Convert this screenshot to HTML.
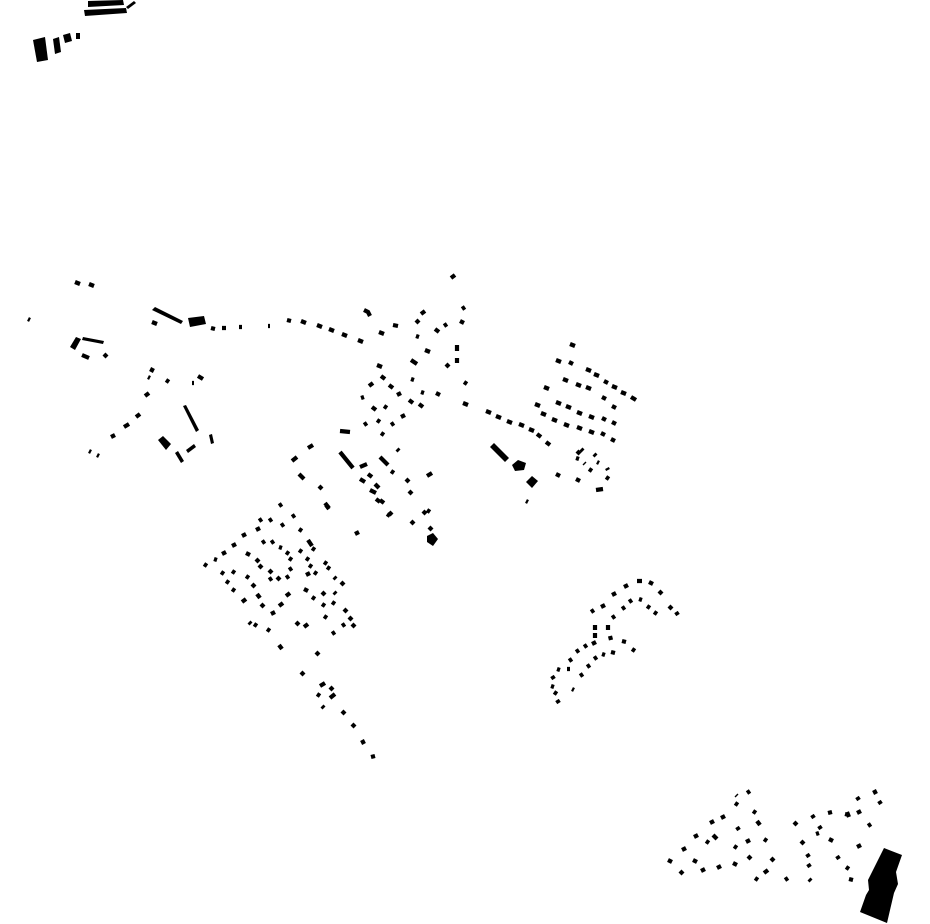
<!DOCTYPE html>
<html><head><meta charset="utf-8"><style>html,body{margin:0;padding:0;background:#fff}svg{display:block}</style></head>
<body>
<svg width="930" height="924" viewBox="0 0 930 924" xmlns="http://www.w3.org/2000/svg">
<g fill="#000">
<polygon points="88,1 123,0 124,5 88,7"/>
<polygon points="84,10 126,8 127,13 85,16"/>
<polygon points="126,7 134,1 136,3 128,9"/>
<polygon points="33,40 45,37 48,60 37,62"/>
<polygon points="53,39 59,37 61,52 55,54"/>
<polygon points="63,35 70,33 72,41 65,43"/>
<rect x="76" y="33" width="4" height="6"/>
<polygon points="188,318 204,316 206,324 190,327"/>
<polygon points="152,310 155,307 183,321 181,324"/>
<polygon points="70,347 76,337 81,339 75,350"/>
<polygon points="83,337 104,341 103,344 82,340"/>
<polygon points="183,406 186,405 199,430 196,432"/>
<polygon points="158,440 163,436 171,444 166,450"/>
<polygon points="175,453 178,451 184,461 181,463"/>
<polygon points="186,450 194,444 196,447 188,453"/>
<polygon points="209,435 212,434 214,443 211,444"/>
<polygon points="490,447 494,443 509,458 505,462"/>
<polygon points="512,465 518,460 526,463 524,470 515,471"/>
<polygon points="526,482 532,476 538,481 532,488"/>
<polygon points="427,536 433,533 438,539 433,546 427,542"/>
<polygon points="884,848 902,855 896,872 898,884 894,893 887,923 860,912 866,895 869,890 868,880 874,868"/>
</g>
<path fill="none" stroke="#000" stroke-width="4.2" d="
M75 282l5 2 M89 284l5 2 M28 319l2 1 M152 322l5 2 M211 328l4 1 M222 328l4 0 M239 327l3 0 M104 354l3 3 M82 355l7 3 M153 368l-2 4 M148 377l2 1 M166 380l3 2 M198 376l5 3 M192 383l2 0 M145 396l4 -3 M136 417l4 -3 M124 427l5 -3 M111 437l4 -2 M89 451l2 1 M97 455l2 1 M268 326l2 0
M287 320l4 1 M301 321l5 2 M317 325l5 2 M329 329l5 2 M342 334l5 2 M358 340l5 2 M364 310l4 2l2 4 M379 332l5 2 M393 325l5 1 M421 314l4 -3 M416 323l3 -3 M435 329l4 3 M444 326l3 -2 M462 309l3 -2 M460 321l4 2 M416 336l3 1 M425 350l5 2 M457 345l0 6 M457 358l0 5 M446 367l3 -3 M411 360l6 4 M377 365l5 2 M381 376l4 3 M389 385l4 3 M369 386l4 -3 M361 398l3 -1 M372 407l4 3 M384 406l3 2 M397 395l4 -2 M409 400l4 3 M419 404l4 3 M421 392l3 1 M436 393l4 2 M464 382l3 2 M463 403l5 2 M411 379l3 1 M401 417l4 -2 M391 425l3 -2 M377 420l3 2 M364 425l3 -2 M381 433l3 2 M340 431l10 1 M308 448l5 -3 M292 461l5 -4 M299 474l5 5 M319 486l3 3 M325 503l4 5 M340 452l13 16 M360 467l7 -3 M360 479l5 3 M368 474l4 3 M375 484l4 4 M370 490l6 3 M380 500l4 3 M387 514l3 2 M380 457l8 8 M391 471l3 2 M397 449l2 2 M406 479l3 3 M409 491l3 3 M427 476l5 -3 M423 511l3 3 M411 521l3 3 M429 527l3 3 M355 534l4 -2 M451 278l4 -3
M486 411l5 2 M496 416l5 2 M507 421l5 2 M519 424l5 2 M529 429l5 2 M537 434l4 3 M546 442l4 3 M556 474l4 2 M576 479l4 2 M596 490l7 -1 M606 477l3 2 M526 501l2 1
M570 344l5 2 M556 360l5 2 M569 362l4 2 M586 369l5 2 M594 374l5 2 M604 381l4 2 M612 386l5 2 M621 392l5 2 M631 397l5 3 M544 387l5 2 M563 379l5 2 M576 384l5 2 M586 387l5 2 M602 397l4 2 M612 406l4 2 M535 404l5 2 M556 402l5 2 M566 406l5 2 M577 412l5 2 M589 416l5 2 M602 418l4 2 M612 422l4 2 M541 413l5 2 M552 419l5 2 M564 424l5 2 M577 427l5 2 M589 431l5 2 M601 433l4 2 M611 439l4 2 M577 451l3 3 M589 469l3 2 M597 462l2 1 M581 449l2 2 M576 458l3 1 M584 463l1 1 M594 454l2 2 M607 468l1 2
M204 564l3 2 M214 559l3 1 M222 554l4 -2 M232 546l4 -2 M242 536l4 -2 M256 530l4 -2 M259 521l3 -2 M269 521l3 -2 M279 506l3 -2 M281 526l3 -2 M292 517l3 -2 M299 529l3 2 M262 543l3 -2 M271 543l3 -2 M279 547l3 1 M286 552l3 2 M289 558l3 2 M299 550l3 2 M308 540l4 6 M312 548l3 2 M246 553l4 2 M256 559l3 3 M259 565l3 3 M269 570l3 3 M277 577l3 3 M286 578l3 -2 M289 570l3 -2 M306 558l3 2 M309 565l3 2 M314 572l3 2 M324 562l3 2 M327 567l3 2 M306 575l4 -2 M221 572l3 2 M232 571l3 2 M246 576l3 2 M226 581l3 2 M232 589l3 2 M252 584l3 3 M257 594l3 4 M261 604l3 3 M269 580l3 -2 M242 602l4 -3 M271 614l4 -2 M279 606l4 -3 M286 596l4 -3 M304 589l4 2 M312 597l3 2 M322 592l3 3 M334 592l2 2 M334 577l2 2 M341 582l3 3 M322 604l3 2 M332 602l3 2 M344 609l3 3 M349 617l3 3 M352 624l3 3 M342 626l3 -2 M332 634l3 -2 M324 616l3 2 M296 622l3 3 M304 627l4 -3 M249 622l2 2 M254 624l3 2 M267 629l3 2 M279 645l3 4 M316 652l3 3 M301 672l3 3 M320 686l5 -3 M330 690l3 -3 M330 698l5 -4 M317 694l3 2 M322 706l2 2 M342 711l3 3 M352 724l3 3 M362 740l2 4 M371 757l4 -1 M326 505l3 4 M376 499l4 3 M389 512l3 3 M427 510l3 2
M591 612l3 -2 M601 607l4 -2 M612 595l4 -2 M624 587l4 -2 M637 581l5 0 M649 582l4 2 M659 591l3 3 M669 606l3 3 M676 612l2 3 M612 618l3 -2 M622 609l3 -2 M629 602l3 -2 M639 599l3 1 M647 606l3 2 M654 612l3 2 M595 625l0 5 M595 633l0 5 M608 625l0 5 M610 636l1 4 M622 641l4 1 M632 649l3 2 M592 644l4 -2 M584 647l3 -2 M576 652l3 -2 M569 661l3 -2 M567 669l3 0 M557 669l3 1 M552 676l2 3 M551 686l3 1 M554 692l3 2 M557 700l2 3 M611 652l4 1 M602 654l3 1 M594 659l3 -2 M587 667l3 -2 M580 676l3 -2 M572 689l2 1
M747 793l3 -2 M735 803l3 2 M736 795l1 1 M753 811l3 2 M721 818l4 -2 M710 823l4 -2 M757 821l3 4 M737 827l2 3 M713 835l4 4 M694 837l4 -2 M706 841l3 2 M746 842l4 -2 M764 839l3 2 M734 846l3 2 M682 850l4 -2 M668 860l4 2 M693 860l4 2 M680 871l3 3 M701 871l4 -2 M717 868l4 -2 M733 863l4 2 M748 856l3 3 M771 858l3 3 M764 873l4 -3 M755 878l3 2 M785 880l3 -2 M794 822l3 3 M812 815l2 3 M828 813l4 -1 M845 814l4 1 M847 812l2 5 M857 813l4 -2 M857 797l2 3 M874 790l2 4 M879 801l2 3 M868 826l3 -2 M819 826l2 3 M816 834l3 -1 M829 839l4 2 M801 841l3 3 M807 854l2 3 M808 864l2 3 M809 879l2 2 M837 856l2 3 M846 867l3 2 M849 879l4 1 M857 847l4 -2
"/>
</svg>
</body></html>
